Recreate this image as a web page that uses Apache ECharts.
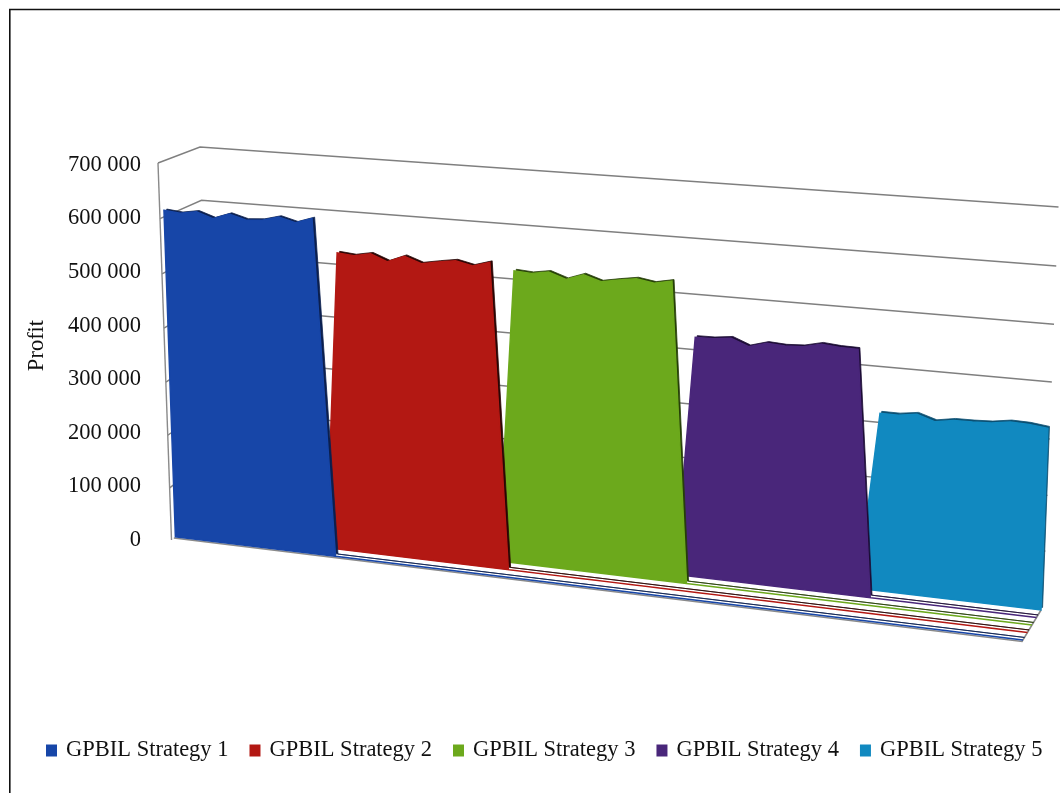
<!DOCTYPE html>
<html><head><meta charset="utf-8">
<style>html,body{margin:0;padding:0;background:#fff}#c{width:1060px;height:793px}</style>
<script src="https://cdn.jsdelivr.net/npm/echarts@6/dist/echarts.min.js"></script>
</head><body><div id="c"></div>
<script>
const seriesNames = ['GPBIL Strategy 1','GPBIL Strategy 2','GPBIL Strategy 3','GPBIL Strategy 4','GPBIL Strategy 5'];
const strategy1 = [611900,608800,613900,603800,614400,606100,608200,616100,608100,618200];
const strategy2 = [552200,549400,555200,543400,555700,544900,550400,555300,548500,557500];
const strategy3 = [537500,535300,540300,529800,540600,530700,536300,541200,536100,542200];
const strategy4 = [437200,437600,441400,429000,437900,435900,437600,445000,442200,441600];
const strategy5 = [321900,321900,326400,316300,321900,322200,323600,328600,327700,323800];
const allValues = [strategy1,strategy2,strategy3,strategy4,strategy5];
const profitTicks = [100000,200000,300000,400000,500000,600000,700000];
const faceColours = ['#1746A8','#B31813','#6CA91C','#49267A','#1189C0'];
const edgeColours = ['#0B1F4E','#2A0504','#263F08','#1C0C35','#0B4F72'];
const POINTS_PER_RUN = 10, LAST = 49, MAX = 700000;

// Box corners of the tilted 3D view: [bottom-left, bottom-right, top-left, top-right], front then back
const FRONT = [[171.5,540],[1020.7,643.75],[158,163],[1036.5,226.8]];
const BACK  = [[210,508],[1043.3,606.25],[200,147],[1058.5,207]];
const WIDEN = 1.10, RISE = 1.04;
const mix = (a,b,t)=>[a[0]+(b[0]-a[0])*t, a[1]+(b[1]-a[1])*t];

function project(tau, vn, depth){
  const t = tau/(tau+WIDEN*(1-tau));
  const w = vn/(vn+RISE*(1-vn));
  const corner = k => mix(FRONT[k],BACK[k],depth);
  const base = mix(corner(0),corner(1),t);
  const top = mix(corner(2),corner(3),t);
  return mix(base,top,w);
}
function toView(params, api, x, v, depth){
  const c = api.coord([x,v]);
  const g = params.coordSys;
  return project((c[0]-g.x)/g.width, (g.y+g.height-c[1])/g.height, depth);
}
function rowsFor(s){
  const rows=[];
  for(let i=0;i<=LAST;i++){
    const k=i-s*POINTS_PER_RUN;
    rows.push([i,(k>=0&&k<POINTS_PER_RUN)?allValues[s][k]:0]);
  }
  return rows;
}
function areaRender(s){
  return function(params,api){
    if(params.dataIndex!==0) return null;
    const outline = depth=>{
      const pts=[];
      for(let k=0;k<=LAST;k++) pts.push(toView(params,api,api.value(0,k),api.value(1,k),depth));
      pts.push(toView(params,api,LAST,0,depth));
      pts.push(toView(params,api,0,0,depth));
      return pts;
    };
    return {type:'group',children:[
      {type:'polygon',shape:{points:outline((s+0.84)/5)},style:{fill:edgeColours[s],stroke:edgeColours[s],lineWidth:0.8}},
      {type:'polygon',shape:{points:outline((s+0.5)/5)},style:{fill:faceColours[s],stroke:faceColours[s],lineWidth:1.4}}
    ]};
  };
}
function wallRender(params,api){
  const v=api.value(0);
  const pts=[toView(params,api,0,v,0),toView(params,api,0,v,1),toView(params,api,LAST,v,1)];
  return {type:'polyline',shape:{points:pts},style:{fill:'none',stroke:'#7f7f7f',lineWidth:1.4}};
}
function axisRender(params,api){
  if(params.dataIndex!==0) return null;
  return {type:'group',children:[
    {type:'polyline',shape:{points:[toView(params,api,0,0,0),toView(params,api,0,MAX,0)]},
      style:{fill:'none',stroke:'#8a8a8a',lineWidth:1.4}},
    {type:'polyline',shape:{points:[toView(params,api,0,0,0.06),toView(params,api,LAST,0,0.06),toView(params,api,LAST,0,0.9)]},
      style:{fill:'none',stroke:'#8a8a8a',lineWidth:1.6}}
  ]};
}
const font='"Liberation Serif","Times New Roman",serif';
const chart=echarts.init(document.getElementById('c'),null,{renderer:'canvas'});
chart.setOption({
  animation:false,
  backgroundColor:'#fff',
  graphic:[{type:'rect',shape:{x:9.8,y:9.5,width:1200,height:900},style:{fill:'none',stroke:'#111',lineWidth:1.6},silent:true,z:50}],
  grid:{left:150,top:165,width:870,height:375},
  xAxis:{type:'value',min:0,max:LAST,show:false},
  yAxis:{type:'value',min:0,max:MAX,interval:100000,
    name:'Profit',nameLocation:'middle',nameRotate:90,nameGap:101,
    nameTextStyle:{fontFamily:font,fontSize:22.5,color:'#111',padding:[0,0,0,14]},
    axisLine:{show:false},axisTick:{show:false},splitLine:{show:false},
    axisLabel:{margin:9,fontFamily:font,fontSize:22.5,color:'#111',padding:[4,0,0,0],
      formatter:v=>String(v).replace(/\B(?=(\d{3})+$)/g,' ')}},
  legend:{data:seriesNames,left:41,top:734,icon:'rect',itemWidth:11,itemHeight:12,itemGap:21,
    textStyle:{fontFamily:font,fontSize:22.5,color:'#111',padding:[0,0,0,4]},selectedMode:false},
  series:[
    {type:'custom',name:'walls',coordinateSystem:'cartesian2d',data:profitTicks.map(v=>[v]),encode:{y:0},
      renderItem:wallRender,z:1,silent:true,clip:false},
    {type:'custom',name:'axis',coordinateSystem:'cartesian2d',data:[[0,0]],encode:{x:0,y:1},
      renderItem:axisRender,z:1,silent:true,clip:false},
    ...seriesNames.map((name,s)=>({type:'custom',name,coordinateSystem:'cartesian2d',data:rowsFor(s),
      encode:{x:0,y:1},renderItem:areaRender(s),itemStyle:{color:faceColours[s]},z:10-s,silent:true,clip:false}))
  ]
});
</script></body></html>
